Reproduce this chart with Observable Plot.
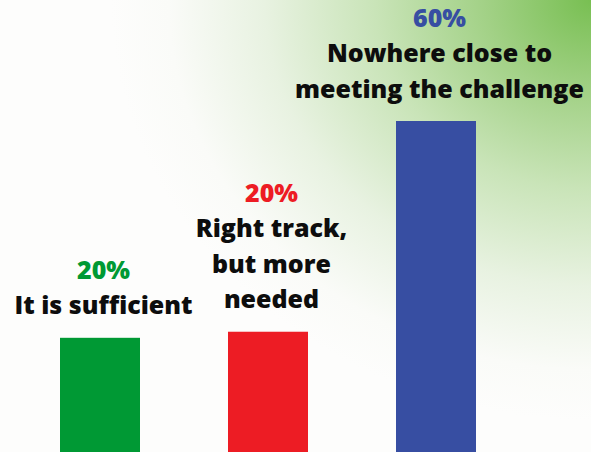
<!DOCTYPE html>
<html><head><meta charset="utf-8">
<script src="https://cdn.jsdelivr.net/npm/d3@7"></script>
<script src="https://cdn.jsdelivr.net/npm/@observablehq/plot@0.6"></script>
<style>
body{margin:0;background:#fdfdfc;}
#chart{width:591px;height:452px;}
</style></head><body><div id="chart"></div>
<script>
const categories = ["It is sufficient", "Right track, but more needed", "Nowhere close to meeting the challenge"];
const descriptions = ["It is sufficient", "Right track,\nbut more\nneeded", "Nowhere close to\nmeeting the challenge"];
const values = [20.7, 21.8, 60];
const percentLabels = ["20%", "20%", "60%"];
const colors = ["#009934", "#ed1c24", "#374ea2"];

const data = categories.map((c, i) => ({category: c, value: values[i], desc: descriptions[i], pct: percentLabels[i]}));

const chart = Plot.plot({
  width: 591,
  height: 452,
  margin: 0,
  style: {
    background: "radial-gradient(ellipse 480px 420px at 100% 0%, #78bf52 0%, #a2d186 22%, #c9e4b8 45%, #e8f2e1 68%, #fafbf8 88%, #fdfdfc 100%)",
    overflow: "visible"
  },
  x: {domain: categories, range: [60, 476], paddingInner: 0.524, paddingOuter: 0, axis: null},
  y: {domain: [0, 60], range: [452, 121], axis: null},
  color: {domain: categories, range: colors},
  marks: [
    Plot.barY(data, {x: "category", y: "value", fill: "category"}),
    Plot.text(data, {
      x: "category", y: "value", text: "desc",
      lineAnchor: "bottom", dy: -24, dx: 3, lineHeight: 1.42,
      fontSize: 25, fontWeight: 800, fontFamily: "Open Sans", fill: "#0d0d0d"
    }),
    Plot.text(data, {
      x: "category", y: "value",
      text: d => d.pct + "\n".repeat(d.desc.split("\n").length),
      lineAnchor: "bottom", dy: -24, dx: 3, lineHeight: 1.42,
      fontSize: 25, fontWeight: 800, fontFamily: "Open Sans", fill: "category"
    })
  ]
});
document.getElementById("chart").appendChild(chart);
</script></body></html>
